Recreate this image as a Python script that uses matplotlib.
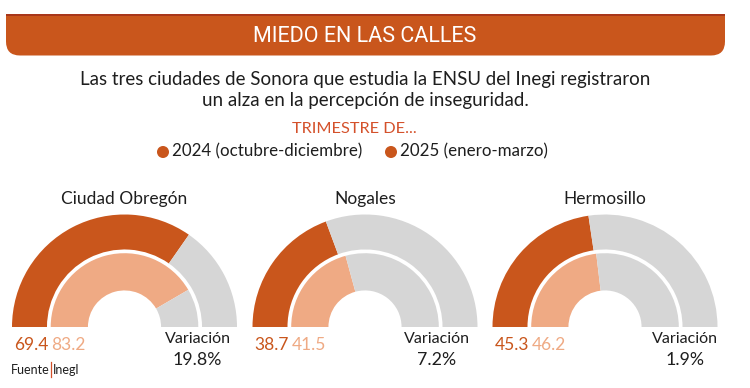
import matplotlib
matplotlib.use("Agg")
import matplotlib.pyplot as plt
from matplotlib.patches import FancyBboxPatch, Rectangle

# ---------------- data ----------------
cities = ["Ciudad Obregón", "Nogales", "Hermosillo"]
values_2024 = [69.4, 38.7, 45.3]
values_2025 = [83.2, 41.5, 46.2]
variation = ["19.8%", "7.2%", "1.9%"]
legend_labels = ["2024 (octubre-diciembre)", "2025 (enero-marzo)"]
title = "MIEDO EN LAS CALLES"
subtitle = ["Las tres ciudades de Sonora que estudia la ENSU del Inegi registraron",
            "un alza en la percepción de inseguridad."]
legend_title = "TRIMESTRE DE..."
source = ("Fuente", "Inegl")

# ---------------- style ----------------
DARK = "#C9561C"
LIGHT = "#EFAA84"
GREY = "#D6D6D6"
TXT = "#1E1E1E"
RED = "#D4512B"
BODY = ["Lato", "DejaVu Sans"]
NARROW = ["Liberation Sans Narrow", "Roboto", "DejaVu Sans"]

W, H = 750, 388
fig = plt.figure(figsize=(W / 100, H / 100), dpi=100)
fig.patch.set_facecolor("white")
bg = fig.add_axes([0, 0, 1, 1])
bg.set_xlim(0, W)
bg.set_ylim(H, 0)
bg.axis("off")

# header band (square top corners, rounded bottom corners)
bg.add_patch(FancyBboxPatch((6 + 14, 14.5 + 14), 719 - 28, 41 - 28,
                            boxstyle="round,pad=14", fc=DARK, ec="none"))
bg.add_patch(Rectangle((6, 14.5), 719, 20, fc=DARK, ec="none"))
bg.add_patch(Rectangle((6, 14.0), 719, 1.6, fc="#A8361A", ec="none"))
bg.text(365, 42.5, title, ha="center", va="baseline", color="white",
        fontsize=15.5, family=NARROW, fontweight="normal")

# subtitle
bg.text(365, 85, subtitle[0], ha="center", va="baseline", color=TXT,
        fontsize=13.5, family=BODY)
bg.text(365, 106, subtitle[1], ha="center", va="baseline", color=TXT,
        fontsize=13.5, family=BODY)

# legend
bg.text(354, 133.3, legend_title, ha="center", va="baseline", color=RED,
        fontsize=11.7, family=BODY)
leg_x = [163, 391]
for lx, lab in zip(leg_x, legend_labels):
    bg.scatter([lx], [152], s=75, color=DARK, edgecolors="none")
    bg.text(lx + 9.5, 156.7, lab, ha="left", va="baseline", color=TXT,
            fontsize=12.2, family=BODY)

# gauges
centers = [124.5, 365, 605]
base_y = 327
var_dx = [73, 72, 80]
half = 135
for i, cx in enumerate(centers):
    ax = fig.add_axes([(cx - half) / W, (H - base_y - half) / H,
                       2 * half / W, 2 * half / H])
    v1, v2 = values_2024[i], values_2025[i]
    ax.pie([v1, 100 - v1, 100], radius=1.0, startangle=180, counterclock=False,
           colors=[DARK, GREY, "none"],
           wedgeprops=dict(width=0.311, linewidth=0, edgecolor="none"))
    ax.pie([v2, 100 - v2, 100], radius=0.656, startangle=180, counterclock=False,
           colors=[LIGHT, GREY, "none"],
           wedgeprops=dict(width=0.331, linewidth=0, edgecolor="none"))
    ax.set_xlim(-1.2, 1.2)
    ax.set_ylim(-1.2, 1.2)
    ax.set_aspect("equal")
    ax.axis("off")

    bg.text(cx, 204, cities[i], ha="center", va="baseline", color=TXT,
            fontsize=12.5, family=BODY)
    bg.text(cx - 110.5, 350, f"{v1:.1f}", ha="left", va="baseline",
            color=DARK, fontsize=12.5, family=BODY)
    bg.text(cx - 73.5, 350, f"{v2:.1f}", ha="left", va="baseline",
            color=LIGHT, fontsize=12.5, family=BODY)
    bg.text(cx + var_dx[i], 343.3, "Variación", ha="center", va="baseline",
            color=TXT, fontsize=11.5, family=BODY)
    bg.text(cx + var_dx[i], 365, variation[i], ha="center", va="baseline",
            color=TXT, fontsize=12.8, family=BODY)

# source
bg.text(49.5, 374, source[0], ha="right", va="baseline", color=TXT,
        fontsize=9, family=BODY)
bg.plot([51, 51], [362, 377], color=RED, lw=0.9)
bg.text(52.5, 374, source[1], ha="left", va="baseline", color=TXT,
        fontsize=9, family=BODY)

fig.savefig("out.png", dpi=100, facecolor="white")
